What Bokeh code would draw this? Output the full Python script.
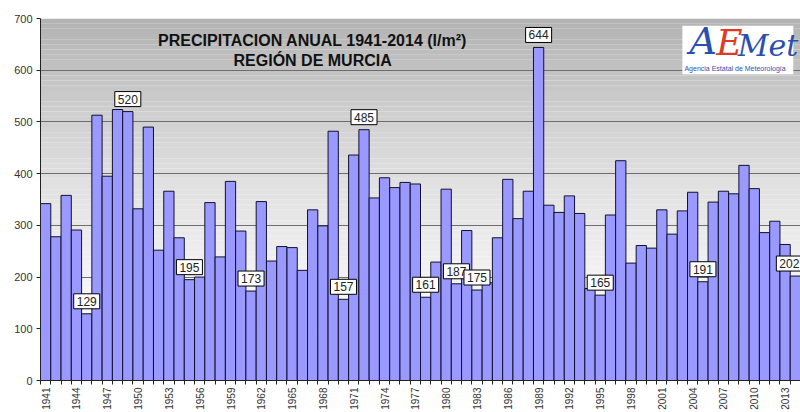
import math
from bokeh.plotting import figure
from bokeh.models import Range1d, FixedTicker, Label, BoxAnnotation, ColumnDataSource
from bokeh.embed import file_html
from bokeh.resources import INLINE

years = list(range(1941, 2015))
precip = [342, 278, 358, 291, 129, 513, 395, 524, 520, 332,
          490, 252, 366, 276, 195, 200, 344, 239, 385, 289,
          173, 346, 231, 259, 257, 213, 330, 299, 482, 157,
          436, 485, 353, 392, 373, 383, 380, 161, 229, 370,
          187, 290, 175, 189, 276, 389, 313, 366, 644, 339,
          325, 357, 323, 178, 165, 320, 425, 227, 261, 256,
          330, 283, 328, 364, 191, 345, 366, 361, 416, 371,
          286, 308, 263, 202]
labeled_years = [1945, 1949, 1955, 1961, 1970, 1972, 1978, 1981, 1983, 1989, 1995, 2005, 2014]
tick_years = list(range(1941, 2015, 3))
y_ticks = list(range(0, 701, 100))
title1 = "PRECIPITACION ANUAL 1941-2014 (l/m²)"
title2 = "REGIÓN DE MURCIA"

FONT = "Liberation Sans"

p = figure(width=800, height=412, x_range=Range1d(1940.5, 2014.5), y_range=Range1d(0, 700),
           output_backend="svg", toolbar_location=None,
           min_border_left=40, min_border_right=0, min_border_top=18, min_border_bottom=0)
p.outline_line_color = None
p.background_fill_color = "white"
p.border_fill_color = "white"

# gradient background of the plot area
nb = 70
for k in range(nb):
    t = (k + 0.5) / nb
    g = int(round(252 - (252 - 178) * t ** 1.6))
    p.add_layout(BoxAnnotation(bottom=700 * k / nb, top=700 * (k + 1) / nb,
                               fill_color=(g, g, g), fill_alpha=1, line_alpha=0, level="image"))

p.xgrid.visible = False
p.ygrid.grid_line_color = "#6e6e6e"
p.ygrid.grid_line_width = 1

src = ColumnDataSource(dict(year=years, value=precip))
p.vbar(x="year", top="value", width=1.0, source=src,
       fill_color="#9999ff", line_color="#101030", line_width=1)

# axes
p.yaxis.ticker = FixedTicker(ticks=y_ticks)
p.yaxis.major_tick_out = 4
p.yaxis.major_tick_in = 0
p.yaxis.minor_tick_out = 0
p.yaxis.axis_line_color = "#222222"
p.yaxis.major_tick_line_color = "#222222"
p.yaxis.major_label_text_font = FONT
p.yaxis.major_label_text_font_size = "11px"
p.yaxis.major_label_text_color = "#333333"
p.yaxis.major_label_standoff = 4

p.xaxis.ticker = FixedTicker(ticks=tick_years, minor_ticks=[y - 0.5 for y in years] + [2014.5])
p.xaxis.major_tick_out = 0
p.xaxis.major_tick_in = 0
p.xaxis.minor_tick_out = 4
p.xaxis.minor_tick_in = 0
p.xaxis.minor_tick_line_color = "#222222"
p.xaxis.axis_line_color = "#222222"
p.xaxis.major_label_orientation = math.pi / 2
p.xaxis.major_label_text_font = FONT
p.xaxis.major_label_text_font_size = "10px"
p.xaxis.major_label_text_color = "#333333"
p.xaxis.major_label_standoff = 3

# value labels with shadow
for yr in labeled_years:
    v = precip[years.index(yr)]
    dx = -6 if yr == years[-1] else 0
    p.add_layout(Label(x=yr, y=v, text=str(v), x_offset=dx + 2, y_offset=3, text_align="center",
                       text_baseline="bottom", text_font=FONT, text_font_size="12px",
                       text_alpha=0, background_fill_color="black", border_line_color="black",
                       padding=3))
    p.add_layout(Label(x=yr, y=v, text=str(v), x_offset=dx, y_offset=5, text_align="center",
                       text_baseline="bottom", text_font=FONT, text_font_size="12px",
                       text_color="#222222",
                       background_fill_color="white", border_line_color="black",
                       border_line_width=1, padding=3))

# title
p.add_layout(Label(x=1967, y=658, text=title1, text_align="center", text_baseline="middle",
                   text_font=FONT, text_font_size="16px", text_font_style="bold", text_color="#111111"))
p.add_layout(Label(x=1967, y=618, text=title2, text_align="center", text_baseline="middle",
                   text_font=FONT, text_font_size="16px", text_font_style="bold", text_color="#111111"))

# AEMet logo
p.add_layout(BoxAnnotation(left=2003.0, right=2013.8, bottom=592, top=686,
                           fill_color="white", fill_alpha=1, line_alpha=0))
p.add_layout(Label(x=2003.7, y=614, text="A", text_font="DejaVu Serif", text_font_style="italic",
                   text_font_size="38px", text_color="#2a4fb0"))
p.add_layout(Label(x=2006.3, y=614, text="E", text_font="DejaVu Serif", text_font_style="italic",
                   text_font_size="36px", text_color="#e03a22"))
p.add_layout(Label(x=2008.4, y=614, text="Met", text_font="DejaVu Serif", text_font_style="italic",
                   text_font_size="30px", text_color="#2a4fb0"))
p.add_layout(Label(x=2003.2, y=596, text="Agencia Estatal de Meteorología", text_font=FONT,
                   text_font_size="7px", text_color="#3050b0"))

open("out.html", "w").write(file_html(p, INLINE))
